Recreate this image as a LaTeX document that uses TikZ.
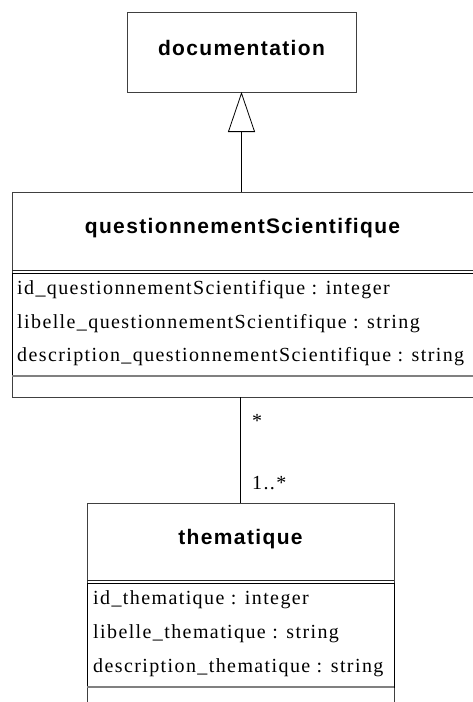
\documentclass[tikz,border=0pt]{standalone}
\usepackage{fontspec}
\setmainfont{Liberation Serif}
\newfontfamily\attrfont{Liberation Serif}[LetterSpace=7]
\newfontfamily\titlefont{Liberation Sans}[LetterSpace=6.5]
\usetikzlibrary{arrows.meta}
\begin{document}
\begin{tikzpicture}[x=1pt,y=-1pt,
  outer/.style={draw=black!75, line width=0.8pt, fill=white, inner sep=0pt, outer sep=0pt, anchor=north west},
  titletext/.style={font=\titlefont\bfseries\fontsize{21}{24}\selectfont, inner sep=0pt},
  attr/.style={font=\attrfont\fontsize{20}{24}\selectfont, anchor=west, inner sep=0pt},
  mult/.style={font=\attrfont\fontsize{20}{24}\selectfont, anchor=west, inner sep=0pt},
  comp/.style={draw=black, line width=1pt, inner sep=0pt, outer sep=0pt, anchor=north west},
  sepline/.style={draw=black!85, line width=0.8pt},
  lowline/.style={draw=black!50, line width=1.3pt},
  conn/.style={draw=black, line width=0.8pt},
  gen/.style={-{Triangle[open, length=40pt, width=27pt]}}]
\useasboundingbox (0,0) rectangle (473,702);
% documentation
\node[outer, minimum width=229pt, minimum height=80pt] (doc) at (127,12) {};
\node[titletext] (doct) at (241.5,48) {documentation};
% questionnementScientifique
\node[outer, minimum width=466pt, minimum height=205pt] (qs) at (12,192) {};
\node[titletext] (qst) at (242.5,228) {questionnementScientifique};
\node[comp, minimum width=466pt, minimum height=103pt] (qsa) at (12,273) {};
\draw[sepline] (qs.west |- 0,270) -- (qs.east |- 0,270);
\draw[lowline] (qsa.south west) -- (qsa.south east);
\node[attr] (qs1) at (17,290) {id\_questionnementScientifique : integer};
\node[attr] (qs2) at (17,323.5) {libelle\_questionnementScientifique : string};
\node[attr] (qs3) at (17,357) {description\_questionnementScientifique : string};
% thematique
\node[outer, minimum width=307pt, minimum height=210pt] (tm) at (87,503) {};
\node[titletext] (tmt) at (240.5,538.6) {thematique};
\node[comp, minimum width=307pt, minimum height=104pt] (tma) at (87,583) {};
\draw[sepline] (tm.west |- 0,580.5) -- (tm.east |- 0,580.5);
\draw[lowline] (tma.south west) -- (tma.south east);
\node[attr] (tm1) at (93,600) {id\_thematique : integer};
\node[attr] (tm2) at (93,634) {libelle\_thematique : string};
\node[attr] (tm3) at (93,668) {description\_thematique : string};
% connectors
\draw[conn, gen] (doc.south |- qs.north) -- (doc.south);
\draw[conn] (qs.south -| tm.north) -- (tm.north);
\node[mult] (m1) at (252,421) {*};
\node[mult] (m2) at (252,483) {1..*};
\end{tikzpicture}
\end{document}
